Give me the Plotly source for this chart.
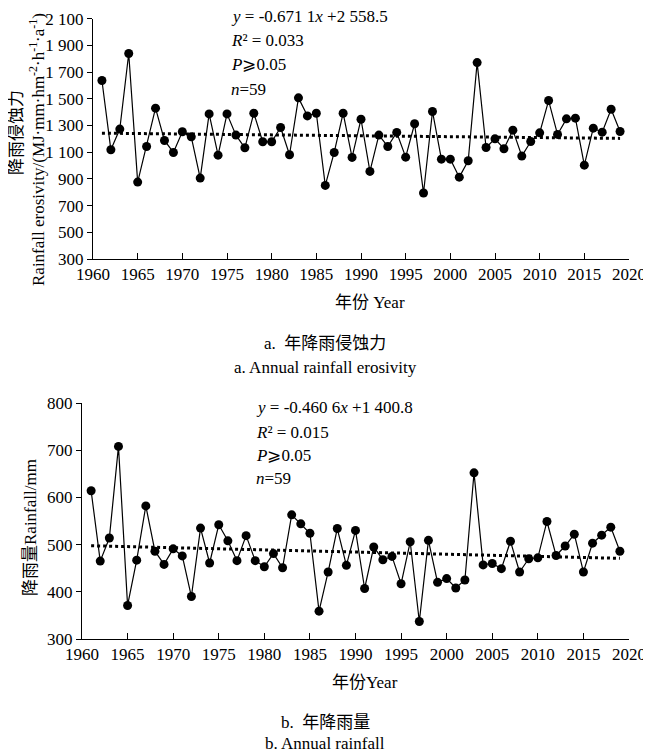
import plotly.graph_objects as go

# The page body has an 8px margin, so the figure is drawn 8px in from the window edges.
OFF = 8
W, H = 651 - OFF, 753 - OFF

years = list(range(1961, 2020))

erosivity = [1637, 1118, 1273, 1839, 876, 1143, 1430, 1188, 1098, 1253,
             1215, 906, 1387, 1078, 1387, 1228, 1133, 1392, 1178, 1178,
             1285, 1081, 1507, 1372, 1392, 851, 1098, 1392, 1061, 1347,
             956, 1228, 1143, 1248, 1063, 1313, 794, 1405, 1048, 1048,
             913, 1036, 1771, 1135, 1200, 1126, 1265, 1071, 1180, 1245,
             1487, 1233, 1350, 1355, 1003, 1280, 1250, 1422, 1255]

rainfall = [614, 465, 514, 708, 371, 467, 582, 486, 458, 491,
            476, 390, 535, 461, 542, 508, 466, 519, 466, 453,
            481, 451, 563, 544, 524, 359, 442, 534, 456, 530,
            407, 495, 468, 475, 417, 506, 337, 509, 420, 428,
            408, 425, 652, 457, 460, 449, 507, 442, 470, 472,
            549, 477, 497, 522, 442, 503, 520, 537, 486]

# regression coefficients as printed on the chart
ero_slope, ero_intercept = -0.6711, 2558.5
rain_slope, rain_intercept = -0.4606, 1400.8

ero_ticks = list(range(300, 2101, 200))
ero_ticktext = ["300", "500", "700", "900", "1 100", "1 300", "1 500", "1 700", "1 900", "2 100"]
rain_ticks = [300, 400, 500, 600, 700, 800]
rain_ticktext = ["300", "400", "500", "600", "700", "800"]
x_ticks = list(range(1960, 2021, 5))

FONT = "Liberation Serif, Times New Roman, Noto Sans CJK SC, serif"
FS = 17


def px(x):
    return (x - OFF) / W


def py(y):
    return 1 - (y - OFF) / H


fig = go.Figure()

marker = dict(size=9, color="black")
line = dict(color="black", width=1.2)
trend_line = dict(color="black", width=3, dash="dot")

fig.add_trace(go.Scatter(x=years, y=erosivity, mode="lines+markers",
                         marker=marker, line=line, xaxis="x", yaxis="y", showlegend=False))
fig.add_trace(go.Scatter(x=years, y=[ero_slope * yr + ero_intercept for yr in years],
                         mode="lines", line=trend_line, xaxis="x", yaxis="y", showlegend=False))
fig.add_trace(go.Scatter(x=years, y=rainfall, mode="lines+markers",
                         marker=marker, line=line, xaxis="x2", yaxis="y2", showlegend=False))
fig.add_trace(go.Scatter(x=years, y=[rain_slope * yr + rain_intercept for yr in years],
                         mode="lines", line=trend_line, xaxis="x2", yaxis="y2", showlegend=False))

axis_common = dict(showgrid=False, zeroline=False, showline=True, linecolor="black",
                   linewidth=1, tickcolor="black", automargin=False,
                   tickfont=dict(family=FONT, size=FS, color="black"))

fig.update_layout(
    width=W, height=H,
    margin=dict(l=0, r=0, t=0, b=0),
    paper_bgcolor="white", plot_bgcolor="white",
    font=dict(family=FONT, size=FS, color="black"),
    xaxis=dict(domain=[px(93), px(629)], anchor="y", range=[1960, 2020],
               tickvals=x_ticks, ticks="inside", ticklen=6, **axis_common),
    yaxis=dict(domain=[py(259), py(18.7)], anchor="x", range=[300, 2100],
               tickvals=ero_ticks, ticktext=ero_ticktext, ticks="outside", ticklen=5,
               **axis_common),
    xaxis2=dict(domain=[px(82), px(629)], anchor="y2", range=[1960, 2020],
                tickvals=x_ticks, ticks="inside", ticklen=6, **axis_common),
    yaxis2=dict(domain=[py(639), py(403)], anchor="x2", range=[300, 800],
                tickvals=rain_ticks, ticktext=rain_ticktext, ticks="outside", ticklen=5,
                **axis_common),
)


def ann(text, x, y, xanchor="center", textangle=0):
    fig.add_annotation(text=text, x=px(x), y=py(y), xref="paper", yref="paper",
                       xanchor=xanchor, yanchor="middle", showarrow=False,
                       textangle=textangle, font=dict(family=FONT, size=FS, color="black"))


# top panel texts
ann("<i>y</i> = -0.671 1<i>x</i> +2 558.5", 229, 16, "left")
ann("<i>R</i>² = 0.033", 229, 41, "left")
ann("<i>P</i>⩾0.05", 229, 65, "left")
ann("<i>n</i>=59", 229, 89, "left")
ann("年份 Year", 370, 302)
ann("降雨侵蚀力", 17, 133, textangle=-90)
ann("Rainfall erosivity/(MJ·mm·hm<sup>-2</sup>·h<sup>-1</sup>·a<sup>-1</sup>)", 37, 150, textangle=-90)
ann("a.  年降雨侵蚀力", 325, 343)
ann("a. Annual rainfall erosivity", 325, 367)

# bottom panel texts
ann("<i>y</i> = -0.460 6<i>x</i> +1 400.8", 254, 407, "left")
ann("<i>R</i>² = 0.015", 254, 432, "left")
ann("<i>P</i>⩾0.05", 254, 455, "left")
ann("<i>n</i>=59", 254, 479, "left")
ann("年份Year", 365, 682)
ann("降雨量Rainfall/mm", 30, 528, textangle=-90)
ann("b.  年降雨量", 325, 722)
ann("b. Annual rainfall", 325, 743)

fig.write_html("out.html")
